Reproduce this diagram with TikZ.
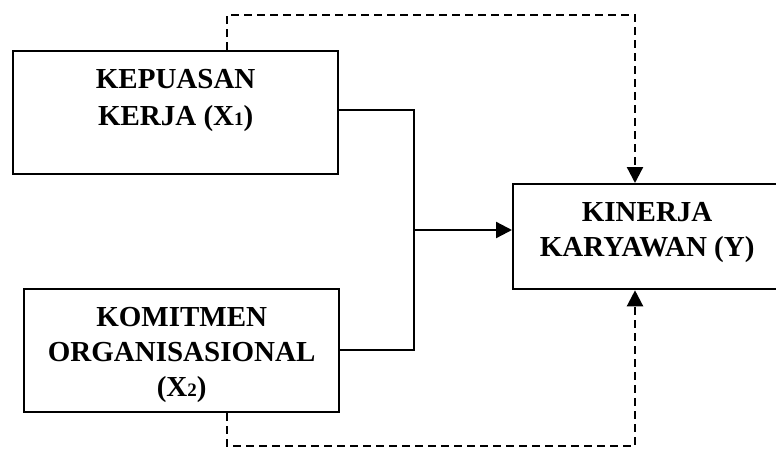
\documentclass[tikz,border=0pt]{standalone}
\usepackage{fontspec}
\setmainfont{Liberation Serif}
\usetikzlibrary{arrows.meta}
\newcommand{\sbs}[1]{\raisebox{-0.5pt}{\fontsize{19}{19}\selectfont #1}}
\begin{document}
\begin{tikzpicture}[x=1pt,y=-1pt,
  box/.style={draw, line width=2.3pt, anchor=north west, inner sep=0pt},
  lbl/.style={anchor=north, inner sep=0pt, align=center, font=\bfseries\fontsize{29}{35}\selectfont},
  link/.style={line width=2.3pt},
  dlink/.style={line width=2.3pt, dash pattern=on 8pt off 5pt},
  tip/.style={-{Triangle[length=16pt,width=16pt]}}]
  \useasboundingbox (0,0) rectangle (776,448);

  % variable boxes
  \node[box, minimum width=325pt, minimum height=123pt] (kk) at (12,50) {};
  \node[box, minimum width=315pt, minimum height=123pt] (ko) at (23,288) {};
  \node[box, minimum width=268pt, minimum height=105pt] (ky) at (512,183) {};

  % box captions
  \node[lbl, font=\bfseries\fontsize{29}{37}\selectfont] (tkk) at ([yshift=-19pt]kk.north) {KEPUASAN\\KERJA (X\sbs{1})};
  \node[lbl] (tko) at ([yshift=-19pt]ko.north) {KOMITMEN\\ORGANISASIONAL\\(X\sbs{2})};
  \node[lbl] (tky) at ([yshift=-19pt]ky.north) {KINERJA\\KARYAWAN (Y)};

  % joint effect of X1 and X2 on Y
  \coordinate (j1) at (414,110);
  \coordinate (j2) at (414,350);
  \coordinate (jm) at (414,230);
  \draw[link] (kk.east |- j1) -- (j1) -- (j2) -- (ko.east |- j2);
  \draw[link, tip] (jm) -- (ky.west |- jm);

  % partial effects
  \coordinate (t1) at (227,15);
  \coordinate (t2) at (635,15);
  \draw[dlink, tip] (kk.north -| t1) -- (t1) -- (t2) -- (ky.north -| t2);
  \coordinate (b1) at (227,446);
  \coordinate (b2) at (635,446);
  \draw[dlink, tip] (ko.south -| b1) -- (b1) -- (b2) -- (ky.south -| b2);
\end{tikzpicture}
\end{document}
